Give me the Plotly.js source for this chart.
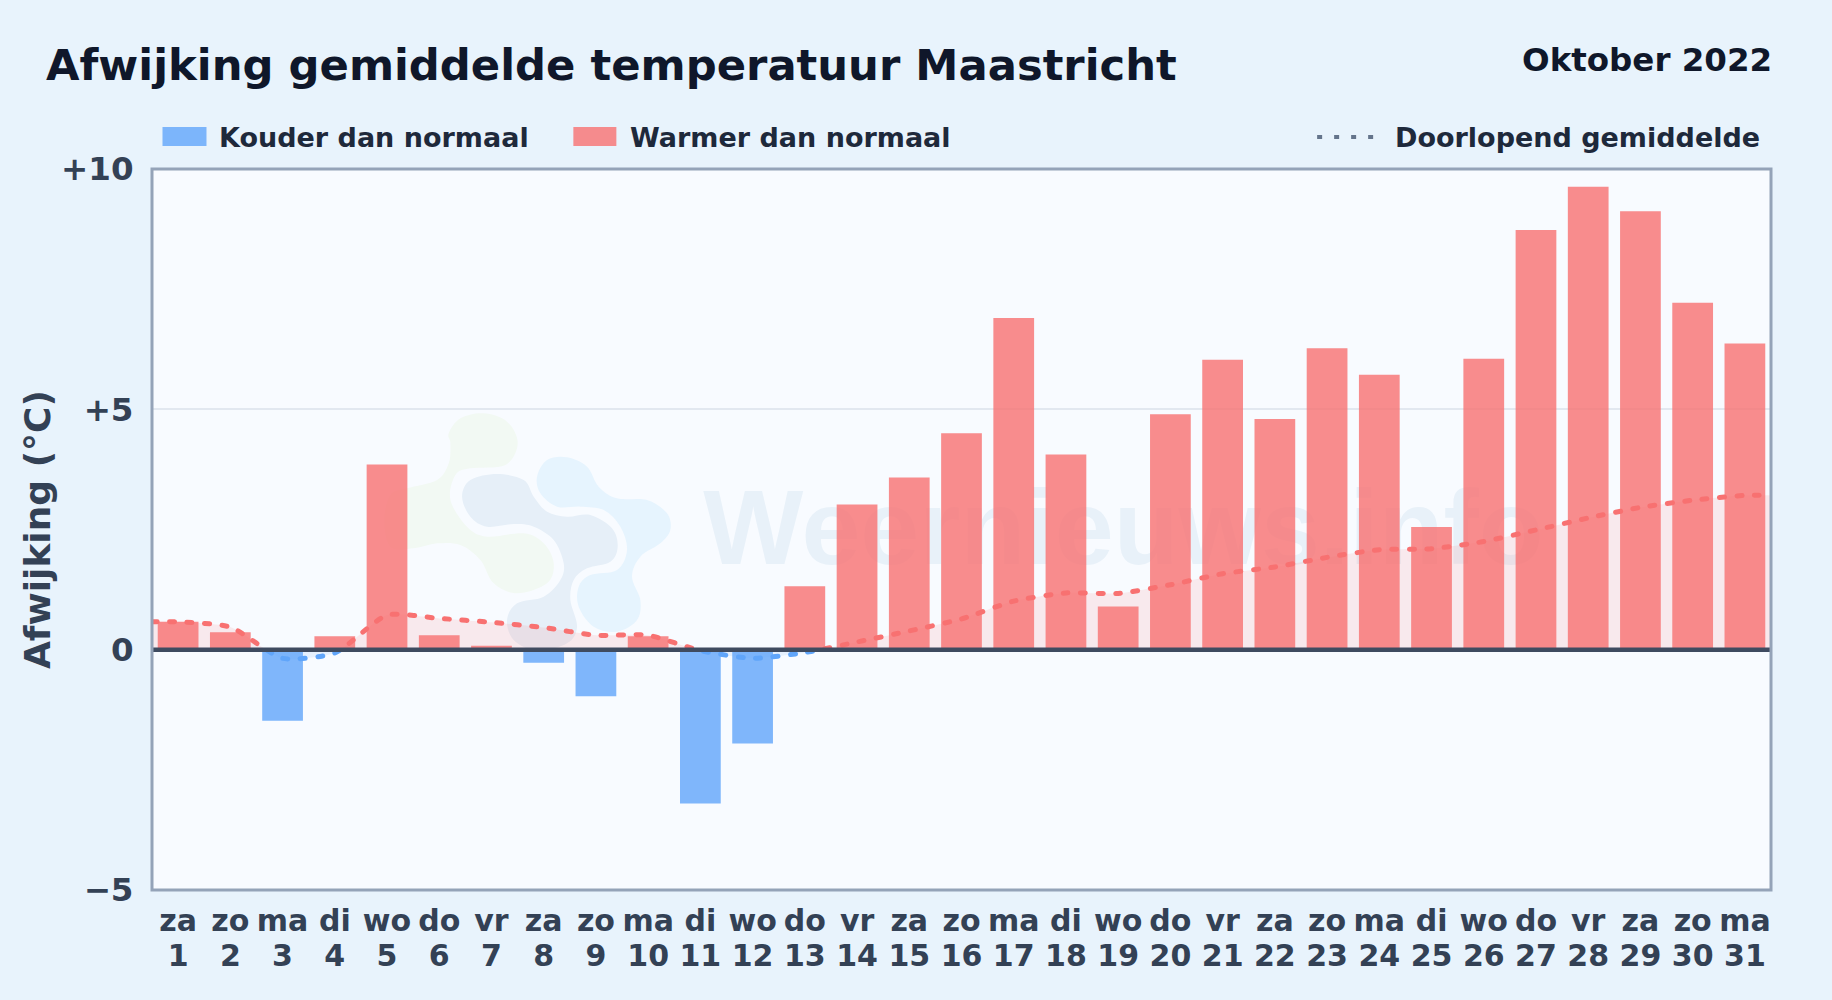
<!DOCTYPE html>
<html>
<head>
<meta charset="utf-8">
<script src="https://cdn.plot.ly/plotly-3.0.1.min.js"></script>
<style>
html,body{margin:0;padding:0;background:#e8f3fc;}
#chart{width:1832px;height:1000px;}
.scatterlayer .js-line{stroke-linecap:round;}
</style>
</head>
<body>
<div id="chart"></div>
<script>
// ---- data ----
var days = [1,2,3,4,5,6,7,8,9,10,11,12,13,14,15,16,17,18,19,20,21,22,23,24,25,26,27,28,29,30,31];
var weekdays = ['za','zo','ma','di','wo','do','vr','za','zo','ma','di','wo','do','vr','za','zo','ma','di','wo','do','vr','za','zo','ma','di','wo','do','vr','za','zo','ma'];
var deviation = [0.58,0.36,-1.48,0.28,3.85,0.30,0.08,-0.27,-0.97,0.28,-3.20,-1.95,1.32,3.02,3.58,4.50,6.90,4.06,0.90,4.90,6.03,4.80,6.27,5.72,2.55,6.05,8.73,9.63,9.12,7.22,6.37];
var meanX = [0.5,1,2,3,4,5,6,7,8,9,10,11,12,13,14,15,16,17,18,19,20,21,22,23,24,25,26,27,28,29,30,31,31.5];
var meanY = [0.58,0.58,0.47,-0.18,-0.07,0.72,0.65,0.57,0.46,0.30,0.30,-0.02,-0.18,-0.06,0.16,0.39,0.64,1.01,1.18,1.17,1.35,1.58,1.72,1.92,2.08,2.10,2.25,2.49,2.74,2.96,3.11,3.21,3.21];
var yTickVals = [-5,0,5,10];
var yTickText = ['\u22125','0','+5','+10'];

// ---- styling ----
var FONT = '"DejaVu Sans", sans-serif';
var RED_BAR = 'rgba(248,113,113,0.8)', BLUE_BAR = 'rgba(96,165,250,0.8)';
var L = 151.5, R = 1771, T = 169, B = 890, W = 1832, H = 1000;
function px(x){ return (x - L) / (R - L); }
function py(y){ return (B - y) / (B - T); }

// watermark logo outlines, in crop coordinates of the picture
var blobGreen = [[235,100],[270,55],[340,40],[410,65],[442,130],[405,195],[300,205],[255,225],[240,300],[290,380],[350,410],[460,400],[520,430],[550,490],[530,550],[440,580],[370,550],[330,480],[270,435],[200,430],[130,445],[60,440],[42,360],[60,285],[110,265],[200,240],[235,190],[240,130]];
var blobMid = [[275,290],[300,240],[380,222],[460,240],[490,290],[530,335],[590,350],[660,345],[725,385],[742,440],[720,485],[650,505],[610,540],[600,600],[620,680],[590,730],[500,752],[430,720],[410,660],[440,610],[520,590],[570,540],[580,490],[550,420],[490,380],[430,372],[350,380],[300,350]];
var blobBlue = [[500,230],[530,180],[590,172],[650,200],[685,260],[740,295],[830,300],[890,340],[900,390],[870,430],[810,470],[785,530],[810,600],[800,660],[740,695],[670,680],[625,620],[625,560],[660,525],[740,510],[770,450],[750,380],[700,330],[630,320],[560,320],[510,280]];
function blobPath(pts){
  var P = pts.map(function(p){ return [px(370 + p[0] / 3), py(400 + p[1] / 3)]; });
  var n = P.length, d = 'M' + P[0][0] + ',' + P[0][1];
  for (var i = 0; i < n; i++) {
    var p0 = P[(i - 1 + n) % n], p1 = P[i], p2 = P[(i + 1) % n], p3 = P[(i + 2) % n];
    d += ' C' + (p1[0] + (p2[0] - p0[0]) / 6) + ',' + (p1[1] + (p2[1] - p0[1]) / 6) + ' ' +
         (p2[0] - (p3[0] - p1[0]) / 6) + ',' + (p2[1] - (p3[1] - p1[1]) / 6) + ' ' + p2[0] + ',' + p2[1];
  }
  return d + ' Z';
}
function blobShape(pts, color){
  return {type:'path', xref:'paper', yref:'paper', path:blobPath(pts), fillcolor:color, line:{width:0}, layer:'below'};
}

var meanDash = '5px,12.5px';
var smooth = 0.6;
var traces = [
  {type:'scatter', mode:'text', x:[19.1], y:[2.33], text:['Weernieuws.info'], textposition:'middle center',
   textfont:{family:'"Liberation Sans", sans-serif', size:106, color:'#e8f1f9', weight:700}, xaxis:'x', yaxis:'y', hoverinfo:'skip', showlegend:false},
  {type:'scatter', mode:'lines', x:meanX, y:meanY, name:'fill warm', line:{width:0, shape:'spline', smoothing:smooth},
   fill:'tozeroy', fillcolor:'rgba(248,113,113,0.13)', xaxis:'x', yaxis:'y', hoverinfo:'skip', showlegend:false},
  {type:'scatter', mode:'lines', x:meanX, y:meanY, name:'fill cold', line:{width:0, shape:'spline', smoothing:smooth},
   fill:'tozeroy', fillcolor:'rgba(96,165,250,0.12)', xaxis:'x', yaxis:'y2', hoverinfo:'skip', showlegend:false},
  {type:'bar', x:days, y:deviation, width:0.78, name:'Afwijking',
   marker:{color:deviation.map(function(v){ return v < 0 ? BLUE_BAR : RED_BAR; }), line:{width:0}},
   xaxis:'x', yaxis:'y3', showlegend:false},
  {type:'scatter', mode:'lines', x:meanX, y:meanY, name:'Doorlopend gemiddelde',
   line:{color:'#f87171', width:5, dash:meanDash, shape:'spline', smoothing:smooth}, xaxis:'x', yaxis:'y4', showlegend:false},
  {type:'scatter', mode:'lines', x:meanX, y:meanY, name:'Doorlopend gemiddelde',
   line:{color:'#60a5fa', width:5, dash:meanDash, shape:'spline', smoothing:smooth}, xaxis:'x2', yaxis:'y5', showlegend:false}
];

var tickFont = {family:FONT, size:30, color:'#334155', weight:700};
var yTickFont = {family:FONT, size:32.5, color:'#334155', weight:700};
var hiddenY = {showgrid:false, zeroline:false, showticklabels:false, ticks:'', showline:false, fixedrange:true};
var xRange = [0.5, 31.5];
var upper = [1/3, 1], lower = [0, 1/3];
function legendText(text, x){
  return {xref:'paper', yref:'paper', x:px(x), y:py(137), xanchor:'left', yanchor:'middle', showarrow:false, text:text,
          font:{family:FONT, size:27, color:'#1e293b', weight:700}, borderpad:0};
}
var layout = {
  width:W, height:H, autosize:false, showlegend:false,
  margin:{l:L, r:W-R, t:T, b:H-B, pad:0},
  paper_bgcolor:'#e8f3fc', plot_bgcolor:'rgba(0,0,0,0)',
  bargap:0.2, hovermode:false, font:{family:FONT},
  title:{text:'Afwijking gemiddelde temperatuur Maastricht', xref:'container', yref:'container', x:46/W, xanchor:'left',
         y:1-65/H, yanchor:'middle', pad:{l:0,r:0,t:0,b:0}, font:{family:FONT, size:43.3, color:'#0f172a', weight:700}},
  xaxis:{range:xRange, domain:[0,1], anchor:'y3', tickmode:'array', tickvals:days, ticktext:weekdays, tickangle:0, tickfont:tickFont,
         ticks:'outside', ticklen:3.5, tickcolor:'rgba(0,0,0,0)', showgrid:false, zeroline:false, showline:false, fixedrange:true},
  xaxis2:{range:xRange, domain:[0,1], anchor:'y3', tickmode:'array', tickvals:days, ticktext:days.map(String), tickangle:0, tickfont:tickFont,
         ticks:'outside', ticklen:38.5, tickcolor:'rgba(0,0,0,0)', showgrid:false, zeroline:false, showline:false, fixedrange:true},
  yaxis:Object.assign({domain:upper, range:[0,10], anchor:'x'}, hiddenY),
  yaxis2:Object.assign({domain:lower, range:[-5,0], anchor:'x'}, hiddenY),
  yaxis3:{domain:[0,1], range:[-5,10], anchor:'x', tickmode:'array', tickvals:yTickVals, ticktext:yTickText, tickfont:yTickFont,
          ticks:'outside', ticklen:11, tickcolor:'rgba(0,0,0,0)', showgrid:true, gridcolor:'#e2e8f0', gridwidth:2, zeroline:false, showline:false, fixedrange:true},
  yaxis4:Object.assign({domain:upper, range:[0,10], anchor:'x'}, hiddenY),
  yaxis5:Object.assign({domain:lower, range:[-5,0], anchor:'x2'}, hiddenY),
  shapes:[
    {type:'rect', xref:'paper', yref:'paper', x0:0, x1:1, y0:0, y1:1, fillcolor:'#f8fbff', line:{width:0}, layer:'below'},
    blobShape(blobGreen,'#f2f9f3'),
    blobShape(blobMid,'#e6eff8'),
    blobShape(blobBlue,'#e6f4fe'),
    {type:'line', xref:'paper', yref:'y3', x0:0, x1:1, y0:0, y1:0, line:{color:'#3f4b60', width:4.5}, layer:'above'},
    {type:'rect', xref:'paper', yref:'paper', x0:0, x1:1, y0:0, y1:1, line:{color:'#94a3b8', width:3}, fillcolor:'rgba(0,0,0,0)', layer:'above'},
    {type:'rect', xref:'paper', yref:'paper', x0:px(162), x1:px(206), y0:py(146), y1:py(127), fillcolor:BLUE_BAR, line:{width:0}, layer:'above'},
    {type:'rect', xref:'paper', yref:'paper', x0:px(573), x1:px(616), y0:py(146), y1:py(127), fillcolor:RED_BAR, line:{width:0}, layer:'above'},
    {type:'line', xref:'paper', yref:'paper', x0:px(1317), x1:px(1376), y0:py(137), y1:py(137), line:{color:'#64748b', width:4, dash:'5px,12px'}, layer:'above'}
  ],
  annotations:[
    {xref:'paper', yref:'paper', x:px(1771), y:py(60), xanchor:'right', yanchor:'middle', xshift:3, showarrow:false, text:'Oktober 2022',
     font:{family:FONT, size:32.5, color:'#0f172a', weight:700}},
    legendText('Kouder dan normaal', 218),
    legendText('Warmer dan normaal', 629),
    legendText('Doorlopend gemiddelde', 1394),
    {xref:'paper', yref:'paper', x:px(36.5), y:py(530), xanchor:'center', yanchor:'middle', textangle:-90, showarrow:false, text:'Afwijking (\u00b0C)',
     font:{family:FONT, size:36, color:'#334155', weight:700}}
  ]
};
Plotly.newPlot('chart', traces, layout, {displayModeBar:false, staticPlot:true});
</script>
</body>
</html>
